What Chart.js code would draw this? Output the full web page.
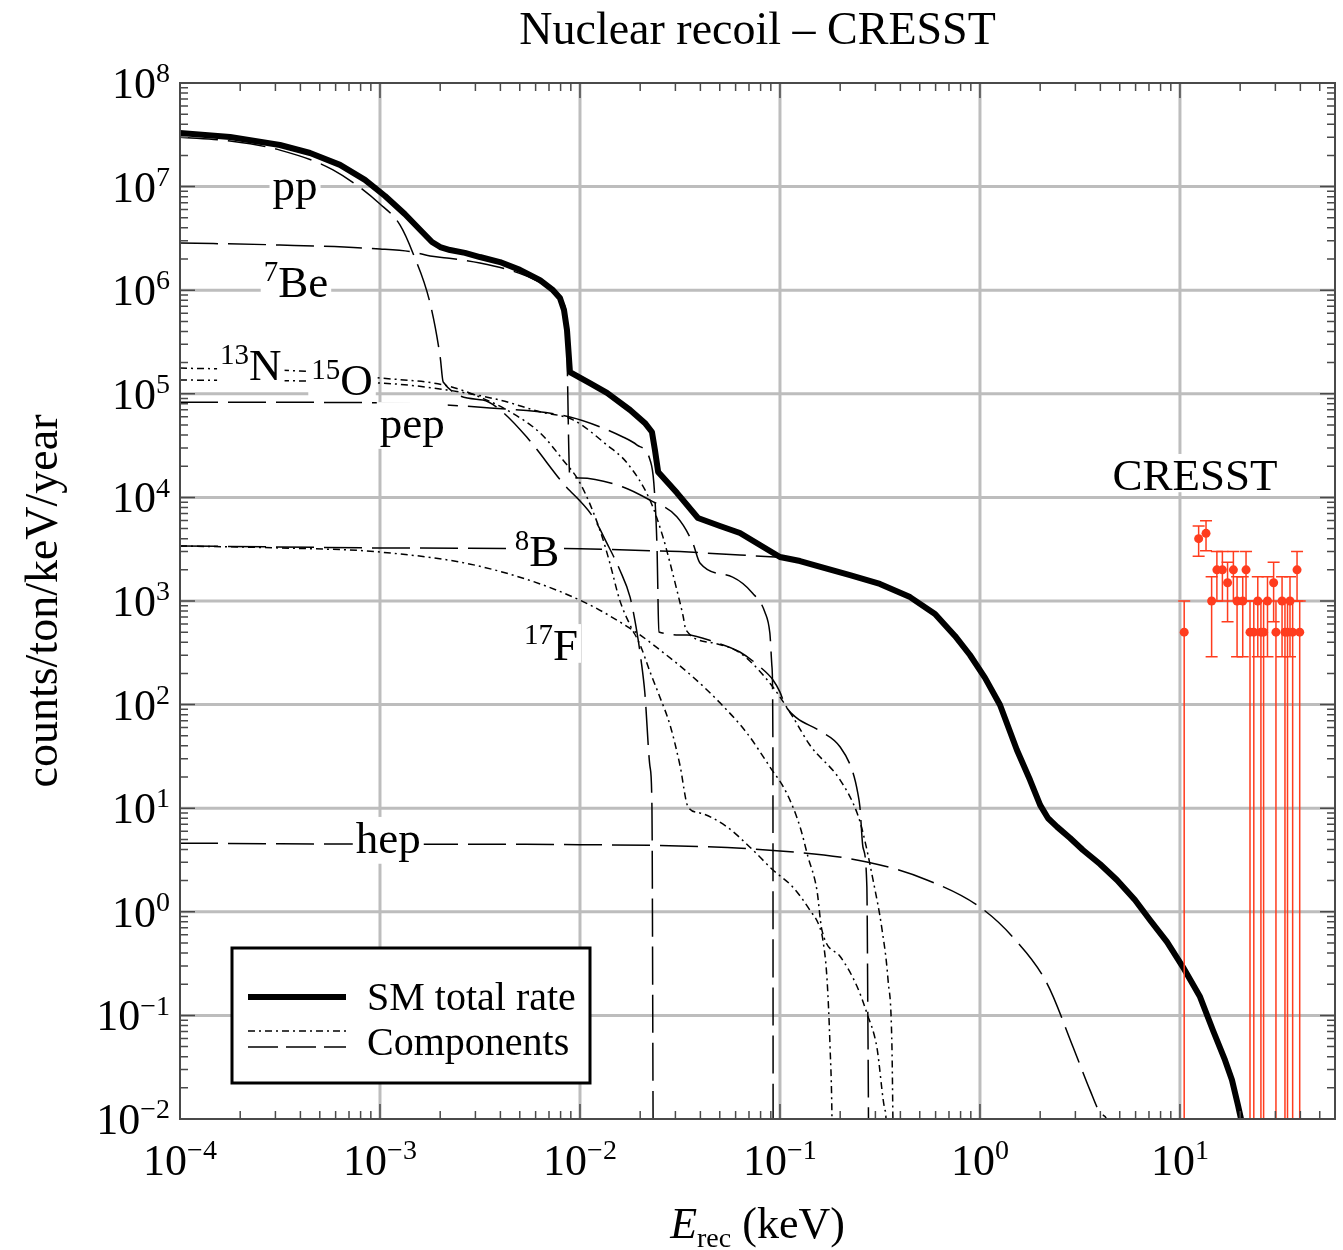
<!DOCTYPE html>
<html>
<head>
<meta charset="utf-8">
<script src="https://cdn.jsdelivr.net/npm/chart.js@4.4.0/dist/chart.umd.min.js"></script>
<style>
  html, body { margin: 0; padding: 0; background: #fff; }
</style>
</head>
<body>
<canvas id="myChart" width="1343" height="1250"></canvas>
<script>
// recoil energy (keV) vs rate (counts/ton/keV/year)
var totalRate = [
    [1e-4, 3.29e7], [1.78e-4, 3.01e7], [3.16e-4, 2.52e7], [4.47e-4, 2.11e7], [6.31e-4, 1.62e7],
    [8.41e-4, 1.16e7], [1.06e-3, 8.11e6], [1.33e-3, 5.44e6], [1.59e-3, 3.81e6], [1.82e-3, 2.92e6],
    [2.0e-3, 2.61e6], [2.24e-3, 2.44e6], [2.66e-3, 2.29e6], [3.16e-3, 2.09e6], [3.98e-3, 1.87e6],
    [5.01e-3, 1.57e6], [6.31e-3, 1.25e6], [7.33e-3, 1.0e6], [7.94e-3, 8.4e5], [8.32e-3, 6.44e5],
    [8.61e-3, 4.13e5], [8.91e-3, 1.62e5], [0.0112, 1.27e5], [0.01365, 1.02e5], [0.0178, 6.98e4],
    [0.0211, 5.23e4], [0.0229, 4.28e4], [0.0237, 2.87e4], [0.0246, 1.76e4], [0.0306, 1.1e4],
    [0.0389, 6.32e3], [0.0501, 5.3e3], [0.0631, 4.53e3], [0.0794, 3.47e3], [0.1, 2.66e3],
    [0.126, 2.43e3], [0.153, 2.18e3], [0.224, 1.78e3], [0.316, 1.46e3], [0.447, 1.09e3],
    [0.596, 750], [0.75, 460], [0.891, 301], [1.06, 181], [1.26, 99], [1.53, 36.5],
    [1.78, 18.7], [2.0, 10.7], [2.19, 8.0], [2.43, 6.6], [2.82, 5.15], [3.27, 3.95],
    [3.98, 2.89], [4.84, 2.03], [5.96, 1.3], [7.08, 0.834], [8.61, 0.512], [10.35, 0.293],
    [12.6, 0.151], [14.6, 0.0723], [16.8, 0.037], [18.2, 0.0238], [19.5, 0.0136],
    [20.2, 0.01], [20.9, 0.0063]
];

var ppRate = [
    [1e-4, 3.0e7], [1.78e-4, 2.75e7], [3.16e-4, 2.25e7], [5.82e-4, 1.45e7], [1e-3, 6.8e6],
    [1.26e-3, 4.25e6], [1.46e-3, 2.29e6], [1.78e-3, 7.5e5], [2.0e-3, 2.26e5], [2.07e-3, 1.3e5],
    [3.27e-3, 8.7e4], [3.98e-3, 7.0e4], [5.43e-3, 3.8e4], [8.2e-3, 1.38e4], [0.0116, 6.5e3],
    [0.01365, 3.6e3], [0.0158, 2.0e3], [0.0178, 1.09e3], [0.0193, 491], [0.0202, 269],
    [0.0211, 130], [0.0224, 25], [0.0229, 10.3], [0.0232, 0.01], [0.0233, 0.001]
];

var be7Rate = [
    [1e-4, 2.86e6], [3.16e-4, 2.73e6], [1e-3, 2.5e6], [1.46e-3, 2.34e6], [1.78e-3, 2.14e6],
    [2.16e-3, 2.05e6], [3.16e-3, 1.83e6], [4.62e-3, 1.53e6], [6.1e-3, 1.23e6], [7.3e-3, 9.8e5],
    [8.13e-3, 7.7e5], [8.5e-3, 6.2e5], [8.9e-3, 1.57e4], [0.01, 1.54e4], [0.0164, 1.26e4],
    [0.0224, 9.4e3], [0.0305, 6.5e3], [0.0367, 3.6e3], [0.0398, 2.33e3], [0.058, 1.7e3],
    [0.073, 1.19e3], [0.084, 783], [0.089, 491], [0.0912, 231], [0.0922, 36],
    [0.0924, 0.01], [0.0925, 0.001]
];

var pepRate = [
    [1e-4, 8.3e4], [1e-3, 8.2e4], [3.55e-3, 7.3e4], [8.9e-3, 5.97e4], [0.0164, 3.83e4],
    [0.0193, 3.2e4], [0.0224, 2.3e4], [0.0234, 1.38e4], [0.0243, 3.1e3], [0.0248, 502],
    [0.0343, 470], [0.0484, 394], [0.063, 322], [0.0794, 231], [0.0923, 173], [0.1, 132],
    [0.106, 99], [0.1216, 74], [0.155, 57], [0.2, 39], [0.232, 21.9], [0.245, 14],
    [0.251, 10.3], [0.26, 4.2], [0.272, 1.73], [0.275, 0.1], [0.277, 0.01], [0.278, 0.001]
];

var n13Rate = [
    [1e-4, 1.77e5], [3.98e-4, 1.66e5], [1e-3, 1.42e5], [2.07e-3, 1.22e5], [3.16e-3, 9.3e4],
    [4.47e-3, 6.7e4], [6.31e-3, 4.2e4], [8.22e-3, 2.3e4], [0.01, 1.38e4], [0.0126, 4.8e3],
    [0.0141, 2.33e3], [0.0158, 1.02e3], [0.0178, 586], [0.02, 376], [0.0224, 207],
    [0.0251, 118], [0.0282, 63.5], [0.0316, 26.1], [0.0347, 10.3], [0.0398, 9.0],
    [0.0543, 6.6], [0.0708, 4.2], [0.0923, 2.53], [0.116, 1.73], [0.141, 1.04], [0.158, 0.71],
    [0.164, 0.53], [0.172, 0.22], [0.178, 0.0495], [0.182, 0.01], [0.184, 0.001]
];

var o15Rate = [
    [1e-4, 1.36e5], [1e-3, 1.27e5], [2.16e-3, 1.09e5], [3.98e-3, 8.7e4], [6.31e-3, 6.7e4],
    [9.23e-3, 5.6e4], [0.01365, 3.2e4], [0.0172, 2.15e4], [0.0224, 9.4e3], [0.026, 4.15e3],
    [0.0282, 2.33e3], [0.0305, 1.28e3], [0.0327, 733], [0.0339, 525], [0.0462, 394],
    [0.0631, 315], [0.0891, 161], [0.116, 76], [0.141, 40.7], [0.2, 18.7], [0.243, 9.0],
    [0.26, 5.8], [0.292, 2.03], [0.324, 0.67], [0.347, 0.22], [0.363, 0.0495],
    [0.367, 0.01], [0.372, 0.001]
];

var f17Rate = [
    [1e-4, 3.4e3], [3.16e-4, 3.25e3], [1e-3, 2.97e3], [3.27e-3, 2.13e3], [0.01, 1.02e3],
    [0.0193, 491], [0.0251, 337], [0.0367, 185], [0.0501, 104], [0.0684, 53], [0.0891, 25],
    [0.108, 14], [0.126, 6.6], [0.138, 3.4], [0.153, 1.62], [0.162, 0.67], [0.2, 0.37],
    [0.243, 0.19], [0.272, 0.105], [0.305, 0.0495], [0.335, 0.0122], [0.339, 0.01],
    [0.343, 0.001]
];

var b8Rate = [
    [1e-4, 3.4e3], [1e-3, 3.25e3], [0.01, 3.2e3], [0.0316, 3.0e3], [0.063, 2.78e3],
    [0.1, 2.64e3], [0.126, 2.4e3], [0.153, 2.15e3], [0.224, 1.76e3], [0.316, 1.44e3],
    [0.447, 1.08e3], [0.596, 740], [0.75, 455], [0.891, 298], [1.06, 179], [1.26, 98],
    [1.53, 36], [1.78, 18.5], [2.0, 10.6], [2.19, 7.9], [2.43, 6.5], [2.82, 5.1],
    [3.27, 3.9], [3.98, 2.86], [4.84, 2.0], [5.96, 1.29], [7.08, 0.826], [8.61, 0.507],
    [10.35, 0.29], [12.6, 0.15], [14.6, 0.0716], [16.8, 0.0366], [18.2, 0.0236],
    [19.5, 0.0135], [20.2, 0.0099], [20.9, 0.0062]
];

var hepRate = [
    [1e-4, 4.6], [1e-3, 4.5], [0.01, 4.45], [0.1, 3.87], [0.272, 3.03], [0.543, 2.03],
    [1.0, 1.11], [1.46, 0.57], [2.16, 0.205], [2.92, 0.0496], [3.55, 0.019], [3.98, 0.0115],
    [4.3, 0.01], [4.7, 0.005]
];

// CRESST data points
var cresstE = [10.5, 12.4, 13.5, 14.4, 15.3, 16.3, 17.3, 18.5, 19.3, 20.6, 21.4, 22.4, 23.4,
    24.5, 25.4, 26.2, 27.4, 29.4, 30.2, 32.4, 33.5, 34.5, 35.5, 36.6, 38.5, 39.7];
var cresstRate = [500, 4000, 4500, 1000, 2000, 2000, 1500, 2000, 1000, 1000, 2000, 500, 500,
    1000, 500, 500, 1000, 1500, 500, 1000, 500, 500, 1000, 500, 2000, 500];
var cresstErr = [500, 1300, 1450, 710, 1000, 1000, 870, 1000, 710, 710, 1000, 500, 500,
    710, 500, 500, 710, 870, 500, 710, 500, 500, 710, 500, 1000, 500];

var xDecades = [1e-4, 1e-3, 1e-2, 1e-1, 1e0, 1e1];
var xExponents = ["\u22124", "\u22123", "\u22122", "\u22121", "0", "1"];
var yDecades = [1e-2, 1e-1, 1e0, 1e1, 1e2, 1e3, 1e4, 1e5, 1e6, 1e7, 1e8];
var yExponents = ["\u22122", "\u22121", "0", "1", "2", "3", "4", "5", "6", "7", "8"];

const SERIF = '"Liberation Serif", "Times New Roman", serif';
const RED = "#ff3c1e";
const LONG_DASH = [38, 10];
const DOT_DASH = [7, 4, 2, 4];

function pts(list) {
    return list.map(function (p) {
        return { x: p[0], y: p[1] };
    });
}

function partFont(kind, size) {
    if (kind === "sup" || kind === "sub") return Math.round(size * 0.64) + "px " + SERIF;
    if (kind === "it") return "italic " + size + "px " + SERIF;
    return size + "px " + SERIF;
}

// text made of pieces: [text, "sup" | "sub" | "it" | undefined]
// box: bottom margin of a white box below the baseline (in em), or undefined for none
function drawRich(ctx, parts, x, y, size, align, box) {
    var w = 0;
    var widths = parts.map(function (p) {
        ctx.font = partFont(p[1], size);
        var pw = ctx.measureText(p[0]).width;
        w += pw;
        return pw;
    });
    var left = x;
    if (align === "center") left = x - w / 2;
    if (align === "right") left = x - w;
    if (box !== undefined) {
        ctx.fillStyle = "#fff";
        ctx.fillRect(left - 3, y - size * 0.8, w + 6, size * (0.8 + box));
    }
    ctx.fillStyle = "#000";
    ctx.textAlign = "left";
    ctx.textBaseline = "alphabetic";
    parts.forEach(function (p, i) {
        ctx.font = partFont(p[1], size);
        var dy = 0;
        if (p[1] === "sup") dy = -size * 0.36;
        if (p[1] === "sub") dy = size * 0.2;
        ctx.fillText(p[0], left, y + dy);
        left += widths[i];
    });
}

// curve names, placed in data coordinates (centre x, baseline y)
var curveTags = [
    { parts: [["pp"]], x: 3.76e-4, y: 7.4e6, low: 0.24 },
    { parts: [["7", "sup"], ["Be"]], x: 3.8e-4, y: 8.6e5, low: 0.06 },
    { parts: [["13", "sup"], ["N"]], x: 2.26e-4, y: 1.36e5, low: 0.06 },
    { parts: [["15", "sup"], ["O"]], x: 6.46e-4, y: 9.7e4, low: 0.06 },
    { parts: [["pep"]], x: 1.45e-3, y: 3.74e4, low: 0.24 },
    { parts: [["8", "sup"], ["B"]], x: 6.1e-3, y: 2.18e3, low: 0.06 },
    { parts: [["17", "sup"], ["F"]], x: 7.16e-3, y: 269, low: 0.06 },
    { parts: [["hep"]], x: 1.1e-3, y: 3.7, low: 0.24 },
    { parts: [["CRESST"]], x: 11.9, y: 1.18e4, low: 0.05 },
];

const decor = {
    id: "decor",
    beforeDraw(chart) {
        const ctx = chart.ctx;
        ctx.save();
        ctx.fillStyle = "#fff";
        ctx.fillRect(0, 0, chart.width, chart.height);
        ctx.restore();
    },
    beforeDatasetsDraw(chart) {
        const { ctx, chartArea: a, scales } = chart;
        ctx.save();
        ctx.strokeStyle = "#bdbdbd";
        ctx.lineWidth = 3;
        xDecades.forEach(function (v) {
            var px = scales.x.getPixelForValue(v);
            if (px <= a.left + 1 || px >= a.right - 1) return;
            ctx.beginPath();
            ctx.moveTo(px, a.top);
            ctx.lineTo(px, a.bottom);
            ctx.stroke();
        });
        yDecades.forEach(function (v) {
            var py = scales.y.getPixelForValue(v);
            if (py <= a.top + 1 || py >= a.bottom - 1) return;
            ctx.beginPath();
            ctx.moveTo(a.left, py);
            ctx.lineTo(a.right, py);
            ctx.stroke();
        });
        ctx.restore();
    },
    beforeDatasetDraw(chart, args) {
        if (chart.data.datasets[args.index].label !== "CRESST") return;
        const { ctx, chartArea: a, scales } = chart;
        ctx.save();
        ctx.beginPath();
        ctx.rect(a.left, a.top, a.right - a.left, a.bottom - a.top);
        ctx.clip();
        ctx.strokeStyle = RED;
        ctx.lineWidth = 1.5;
        cresstE.forEach(function (e, i) {
            var px = scales.x.getPixelForValue(e);
            var hi = scales.y.getPixelForValue(cresstRate[i] + cresstErr[i]);
            var low = cresstRate[i] - cresstErr[i];
            var lo = low > 0 ? scales.y.getPixelForValue(low) : a.bottom + 5;
            ctx.beginPath();
            ctx.moveTo(px, hi);
            ctx.lineTo(px, lo);
            ctx.moveTo(px - 6, hi);
            ctx.lineTo(px + 6, hi);
            if (low > 0) {
                ctx.moveTo(px - 6, lo);
                ctx.lineTo(px + 6, lo);
            }
            ctx.stroke();
        });
        ctx.restore();
    },
    afterDatasetsDraw(chart) {
        const { ctx, chartArea: a, scales } = chart;
        ctx.save();

        // names on the curves
        curveTags.forEach(function (t) {
            drawRich(ctx, t.parts, scales.x.getPixelForValue(t.x), scales.y.getPixelForValue(t.y), 45, "center", t.low);
        });

        // frame with inward ticks on all four sides
        ctx.strokeStyle = "#4a4a4a";
        ctx.lineWidth = 2;
        ctx.strokeRect(a.left, a.top, a.right - a.left, a.bottom - a.top);
        ctx.lineWidth = 1.5;
        ctx.beginPath();
        xDecades.forEach(function (d) {
            for (var m = 1; m <= 9; m++) {
                var v = d * m;
                if (v > scales.x.max) break;
                var px = scales.x.getPixelForValue(v);
                var len = m === 1 ? 15 : 8;
                ctx.moveTo(px, a.bottom);
                ctx.lineTo(px, a.bottom - len);
                ctx.moveTo(px, a.top);
                ctx.lineTo(px, a.top + len);
            }
        });
        yDecades.forEach(function (d) {
            for (var m = 1; m <= 9; m++) {
                var v = d * m;
                if (v > scales.y.max) break;
                var py = scales.y.getPixelForValue(v);
                var len = m === 1 ? 15 : 8;
                ctx.moveTo(a.left, py);
                ctx.lineTo(a.left + len, py);
                ctx.moveTo(a.right, py);
                ctx.lineTo(a.right - len, py);
            }
        });
        ctx.stroke();

        // tick labels
        xDecades.forEach(function (v, i) {
            drawRich(ctx, [["10"], [xExponents[i], "sup"]], scales.x.getPixelForValue(v), a.bottom + 56, 44, "center");
        });
        yDecades.forEach(function (v, i) {
            drawRich(ctx, [["10"], [yExponents[i], "sup"]], a.left - 10, scales.y.getPixelForValue(v) + 15, 44, "right");
        });

        // legend
        var lx = a.left + 52, ly = a.bottom - 171;
        ctx.fillStyle = "#fff";
        ctx.fillRect(lx, ly, 358, 135);
        ctx.strokeStyle = "#000";
        ctx.lineWidth = 3;
        ctx.strokeRect(lx, ly, 358, 135);
        ctx.lineWidth = 6;
        ctx.beginPath();
        ctx.moveTo(lx + 16, ly + 49);
        ctx.lineTo(lx + 114, ly + 49);
        ctx.stroke();
        ctx.lineWidth = 1.5;
        ctx.setLineDash(DOT_DASH);
        ctx.beginPath();
        ctx.moveTo(lx + 16, ly + 83);
        ctx.lineTo(lx + 114, ly + 83);
        ctx.stroke();
        ctx.setLineDash([30, 8]);
        ctx.beginPath();
        ctx.moveTo(lx + 16, ly + 99);
        ctx.lineTo(lx + 114, ly + 99);
        ctx.stroke();
        ctx.setLineDash([]);
        drawRich(ctx, [["SM total rate"]], lx + 135, ly + 62, 40, "left");
        drawRich(ctx, [["Components"]], lx + 135, ly + 107, 40, "left");

        // titles
        var cx = (a.left + a.right) / 2;
        drawRich(ctx, [["Nuclear recoil \u2013 CRESST"]], cx, 44, 46, "center");
        drawRich(ctx, [["E", "it"], ["rec", "sub"], [" (keV)"]], cx, 1238, 44, "center");
        ctx.save();
        ctx.translate(57, (a.top + a.bottom) / 2);
        ctx.rotate(-Math.PI / 2);
        drawRich(ctx, [["counts/ton/keV/year"]], 0, 0, 46, "center");
        ctx.restore();

        ctx.restore();
    },
};

function component(label, list, dash, mode) {
    return {
        label: label,
        data: pts(list),
        showLine: true,
        borderColor: "#000",
        borderWidth: 1.5,
        borderDash: dash,
        cubicInterpolationMode: mode || "monotone",
        pointRadius: 0,
        fill: false,
        order: 2,
        clip: 0,
    };
}

const ctx = document.getElementById("myChart").getContext("2d");
const myChart = new Chart(ctx, {
    type: "scatter",
    plugins: [decor],
    data: {
        datasets: [
            {
                label: "CRESST",
                data: cresstE.map(function (e, i) {
                    return { x: e, y: cresstRate[i] };
                }),
                backgroundColor: RED,
                borderColor: RED,
                pointRadius: 4.5,
                pointBorderWidth: 0,
                order: 0,
                clip: 0,
            },
            {
                label: "SM total rate",
                data: pts(totalRate),
                showLine: true,
                borderColor: "#000",
                borderWidth: 6,
                borderJoinStyle: "round",
                tension: 0,
                pointRadius: 0,
                fill: false,
                order: 1,
                clip: 0,
            },
            component("pp", ppRate, LONG_DASH),
            component("7Be", be7Rate, LONG_DASH),
            component("pep", pepRate, LONG_DASH),
            component("8B", b8Rate, LONG_DASH, "default"),
            component("hep", hepRate, LONG_DASH),
            component("13N", n13Rate, DOT_DASH),
            component("15O", o15Rate, DOT_DASH),
            component("17F", f17Rate, DOT_DASH),
        ],
    },
    options: {
        responsive: false,
        animation: false,
        events: [],
        layout: {
            padding: { left: 180, top: 83, right: 8, bottom: 131 },
        },
        plugins: {
            legend: { display: false },
            tooltip: { enabled: false },
        },
        scales: {
            x: {
                type: "logarithmic",
                min: 1e-4,
                max: 59.6,
                display: false,
            },
            y: {
                type: "logarithmic",
                min: 1e-2,
                max: 1e8,
                display: false,
            },
        },
    },
});
</script>
</body>
</html>
